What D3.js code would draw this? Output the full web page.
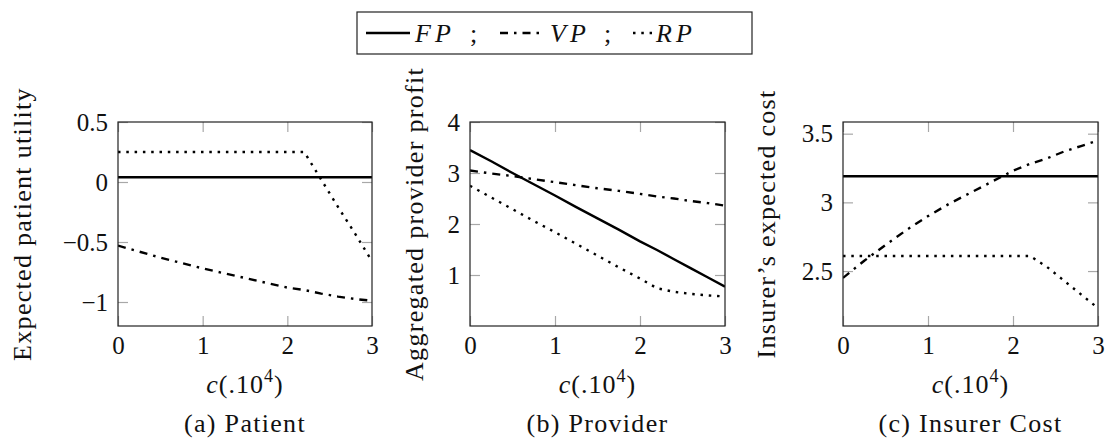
<!DOCTYPE html>
<html>
<head>
<meta charset="utf-8">
<script src="https://cdn.jsdelivr.net/npm/d3@7"></script>
<style>
  body { margin: 0; background: #fff; }
</style>
</head>
<body>
<svg id="chart"></svg>
<script>
const width = 1106, height = 441;
const serif = "'Liberation Serif', 'DejaVu Serif', 'Times New Roman', Tinos, serif";

// Shared x grid, c (.10^4)
const cValues = [0, 0.25, 0.5, 0.75, 1, 1.25, 1.5, 1.75, 2, 2.2, 2.4, 2.6, 2.8, 3];

// (a) Patient: expected patient utility
const patientFP = [0.04, 0.04, 0.04, 0.04, 0.04, 0.04, 0.04, 0.04, 0.04, 0.04, 0.04, 0.04, 0.04, 0.04];
const patientVP = [-0.53, -0.58, -0.63, -0.675, -0.72, -0.76, -0.80, -0.84, -0.88, -0.90, -0.93, -0.955, -0.975, -0.99];
const patientRP = [0.25, 0.25, 0.25, 0.25, 0.25, 0.25, 0.25, 0.25, 0.25, 0.25, 0.02, -0.21, -0.43, -0.66];

// (b) Provider: aggregated provider profit
const providerFP = [3.45, 3.23, 3.00, 2.78, 2.56, 2.33, 2.11, 1.89, 1.66, 1.49, 1.31, 1.13, 0.95, 0.77];
const providerVP = [3.05, 2.99, 2.94, 2.88, 2.82, 2.76, 2.70, 2.65, 2.59, 2.54, 2.50, 2.45, 2.41, 2.36];
const providerRP = [2.75, 2.52, 2.29, 2.06, 1.84, 1.61, 1.38, 1.15, 0.93, 0.74, 0.67, 0.63, 0.60, 0.58];

// (c) Insurer cost: insurer's expected cost
const insurerFP = [3.19, 3.19, 3.19, 3.19, 3.19, 3.19, 3.19, 3.19, 3.19, 3.19, 3.19, 3.19, 3.19, 3.19];
const insurerVP = [2.45, 2.575, 2.69, 2.80, 2.90, 2.99, 3.07, 3.15, 3.23, 3.28, 3.32, 3.37, 3.41, 3.45];
const insurerRP = [2.61, 2.61, 2.61, 2.61, 2.61, 2.61, 2.61, 2.61, 2.61, 2.61, 2.53, 2.43, 2.33, 2.23];

const xTicks = [0, 1, 2, 3];
const patientTicks = [-1, -0.5, 0, 0.5];
const providerTicks = [1, 2, 3, 4];
const insurerTicks = [2.5, 3, 3.5];

const seriesNames = ["FP", "VP", "RP"];

// line styles
const styles = {
  FP: { dash: null },
  VP: { dash: "8,6,2.5,6" },
  RP: { dash: "2.5,5.8" }
};

const svg = d3.select("#chart")
  .attr("width", width)
  .attr("height", height)
  .attr("viewBox", [0, 0, width, height])
  .attr("font-family", serif);

svg.append("rect").attr("width", width).attr("height", height).attr("fill", "#fff");

const panels = [
  { id: "a", left: 118, right: 372, yDomain: [-1.2, 0.5], yTicks: patientTicks,
    yLabel: "Expected patient utility", yLabelX: 31, caption: "(a) Patient",
    data: [patientFP, patientVP, patientRP] },
  { id: "b", left: 470, right: 725, yDomain: [0, 4], yTicks: providerTicks,
    yLabel: "Aggregated provider profit", yLabelX: 423, caption: "(b) Provider",
    data: [providerFP, providerVP, providerRP] },
  { id: "c", left: 843, right: 1098, yDomain: [2.1, 3.585], yTicks: insurerTicks,
    yLabel: "Insurer\u2019s expected cost", yLabelX: 775, caption: "(c) Insurer Cost",
    data: [insurerFP, insurerVP, insurerRP] }
];

const plotTop = 122, plotBottom = 326;
const fmt = d3.format("");

function label(sel, size = 25) {
  return sel.style("font-family", serif).style("font-size", size + "px").attr("fill", "#111");
}

panels.forEach(p => {
  const x = d3.scaleLinear().domain([0, 3]).range([p.left, p.right]);
  const y = d3.scaleLinear().domain(p.yDomain).range([plotBottom, plotTop]);
  const g = svg.append("g").attr("class", "panel-" + p.id);

  g.append("defs").append("clipPath").attr("id", "clip-" + p.id)
    .append("rect")
    .attr("x", p.left).attr("y", plotTop)
    .attr("width", p.right - p.left).attr("height", plotBottom - plotTop);

  // ticks pointing inward on all four sides
  const axes = [
    { axis: d3.axisBottom(x).tickValues(xTicks).tickFormat(fmt), tr: `translate(0,${plotBottom})` },
    { axis: d3.axisTop(x).tickValues(xTicks).tickFormat(""), tr: `translate(0,${plotTop})` },
    { axis: d3.axisLeft(y).tickValues(p.yTicks).tickFormat(fmt), tr: `translate(${p.left},0)` },
    { axis: d3.axisRight(y).tickValues(p.yTicks).tickFormat(""), tr: `translate(${p.right},0)` }
  ];
  axes.forEach(a => {
    const ag = g.append("g")
      .attr("transform", a.tr)
      .call(a.axis.tickSizeInner(-10).tickSizeOuter(0).tickPadding(10))
      .attr("font-family", serif)
      .attr("font-size", 25);
    ag.select(".domain").remove();
    ag.selectAll(".tick line").attr("stroke", "#a8a8a8").attr("stroke-width", 1.2);
    ag.selectAll(".tick text").call(label, 25);
  });

  const line = d3.line()
    .x((d, i) => x(cValues[i]))
    .y(d => y(d));

  const lines = g.append("g").attr("clip-path", `url(#clip-${p.id})`);
  p.data.forEach((vals, k) => {
    lines.append("path")
      .datum(vals)
      .attr("d", line)
      .attr("fill", "none")
      .attr("stroke", "#000")
      .attr("stroke-width", 2.4)
      .attr("stroke-dasharray", styles[seriesNames[k]].dash);
  });

  // axis frame
  g.append("rect")
    .attr("x", p.left).attr("y", plotTop)
    .attr("width", p.right - p.left).attr("height", plotBottom - plotTop)
    .attr("fill", "none").attr("stroke", "#222").attr("stroke-width", 1.2);

  const cx = (p.left + p.right) / 2;

  // y label
  g.append("text")
    .attr("transform", `translate(${p.yLabelX},${(plotTop + plotBottom) / 2}) rotate(-90)`)
    .attr("text-anchor", "middle")
    .call(label, 26)
    .attr("letter-spacing", "1.3px")
    .text(p.yLabel);

  // x label c(.10^4)
  const xl = g.append("text")
    .attr("x", cx).attr("y", 393)
    .attr("text-anchor", "middle")
    .call(label, 26)
    .attr("letter-spacing", "1px");
  xl.append("tspan").style("font-style", "italic").text("c");
  xl.append("tspan").text("(.10");
  xl.append("tspan").attr("dy", -11).style("font-size", "18px").text("4");
  xl.append("tspan").attr("dy", 11).text(")");

  // caption
  g.append("text")
    .attr("x", cx).attr("y", 432)
    .attr("text-anchor", "middle")
    .call(label, 26)
    .attr("letter-spacing", "1.3px")
    .text(p.caption);
});

// legend
const legend = svg.append("g").attr("class", "legend");
legend.append("rect")
  .attr("x", 357).attr("y", 12)
  .attr("width", 395).attr("height", 42)
  .attr("fill", "#fff").attr("stroke", "#222").attr("stroke-width", 1.2);

const legendItems = [
  { name: "FP", x1: 366, x2: 410, tx: 415, semi: 470 },
  { name: "VP", x1: 500, x2: 545, tx: 550, semi: 604 },
  { name: "RP", x1: 633, x2: 652, tx: 656, semi: null }
];
legendItems.forEach(it => {
  legend.append("line")
    .attr("x1", it.x1).attr("x2", it.x2)
    .attr("y1", 33).attr("y2", 33)
    .attr("stroke", "#000").attr("stroke-width", 2.4)
    .attr("stroke-dasharray", styles[it.name].dash);
  legend.append("text")
    .attr("x", it.tx).attr("y", 42)
    .call(label, 26)
    .style("font-style", "italic")
    .attr("letter-spacing", "4px")
    .text(it.name);
  if (it.semi !== null) {
    legend.append("text")
      .attr("x", it.semi).attr("y", 42)
      .call(label, 26)
      .text(";");
  }
});
</script>
</body>
</html>
